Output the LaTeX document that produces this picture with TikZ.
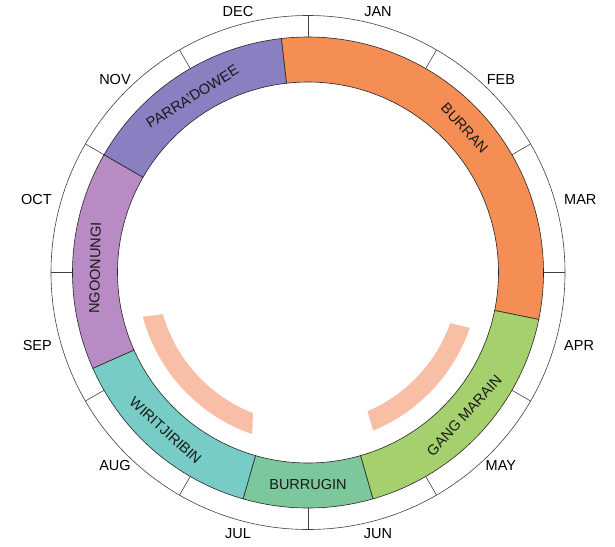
\documentclass[tikz,border=0pt]{standalone}
\usepackage{fontspec}
\setmainfont{Liberation Sans}
\usepackage{xcolor}
\usepackage{tikz}

\definecolor{burrancol}{HTML}{F58E54}
\definecolor{gangcol}{HTML}{A6D06E}
\definecolor{burrugincol}{HTML}{7CC89C}
\definecolor{wiritcol}{HTML}{78CCC6}
\definecolor{ngooncol}{HTML}{B98BC5}
\definecolor{parracol}{HTML}{8A7FC0}
\definecolor{salmoncol}{HTML}{F8BEA6}

\tikzset{
  season/.style={draw=black!85, line width=0.6pt},
  rim/.style={draw=black!75, line width=0.6pt},
  monthlbl/.style={font=\fontsize{14.5}{17}\selectfont, inner sep=1pt},
  seasonlbl/.style={font=\fontsize{14.5}{17}\selectfont, text=black!90, inner sep=0pt}
}

\begin{document}
\begin{tikzpicture}[x=1pt, y=1pt]
            \useasboundingbox (-308, -273.5) rectangle (307, 272.5);

            % month ring
            \draw[rim] (0, 0) circle (257pt);

            % seasons
            \draw[season, fill=burrancol] (96.5:235.5pt) arc[start angle=96.5, end angle=-11.5, radius=235.5pt] -- (-11.5:190.5pt) arc[start angle=-11.5, end angle=96.5, radius=190.5pt] -- cycle; % burran
            \draw[season, fill=gangcol] (-11.5:235.5pt) arc[start angle=-11.5, end angle=-74, radius=235.5pt] -- (-74:190.5pt) arc[start angle=-74, end angle=-11.5, radius=190.5pt] -- cycle; % gang marain
            \draw[season, fill=burrugincol] (-74:235.5pt) arc[start angle=-74, end angle=-106, radius=235.5pt] -- (-106:190.5pt) arc[start angle=-106, end angle=-74, radius=190.5pt] -- cycle; % burrugin
            \draw[season, fill=wiritcol] (-106:235.5pt) arc[start angle=-106, end angle=-156, radius=235.5pt] -- (-156:190.5pt) arc[start angle=-156, end angle=-106, radius=190.5pt] -- cycle; % wiritjiribin
            \draw[season, fill=ngooncol] (204:235.5pt) arc[start angle=204, end angle=150, radius=235.5pt] -- (150:190.5pt) arc[start angle=150, end angle=204, radius=190.5pt] -- cycle; % ngoonungi
            \draw[season, fill=parracol] (150:235.5pt) arc[start angle=150, end angle=96.5, radius=235.5pt] -- (96.5:190.5pt) arc[start angle=96.5, end angle=150, radius=190.5pt] -- cycle; % parra'dowee

            % month dividers
            \draw[rim] (90:235.5pt) -- (90:257pt);   % dec-jan
            \draw[rim] (60:235.5pt) -- (60:257pt);   % jan-feb
            \draw[rim] (30:235.5pt) -- (30:257pt);   % feb-mar
            \draw[rim] (0:235.5pt) -- (0:257pt);     % mar-apr
            \draw[rim] (-30:235.5pt) -- (-30:257pt); % apr-may
            \draw[rim] (-60:235.5pt) -- (-60:257pt); % may-jun
            \draw[rim] (-90:235.5pt) -- (-90:257pt); % jun-jul
            \draw[rim] (-120:235.5pt) -- (-120:257pt); % jul-aug
            \draw[rim] (-150:235.5pt) -- (-150:257pt); % aug-sep
            \draw[rim] (180:235.5pt) -- (180:257pt); % sep-oct
            \draw[rim] (150:235.5pt) -- (150:257pt); % oct-nov
            \draw[rim] (120:235.5pt) -- (120:257pt); % nov-dec

            % month labels
            \node[monthlbl, anchor=255] (jan) at (75:264pt) {JAN};
            \node[monthlbl, anchor=225] (feb) at (45:264pt) {FEB};
            \node[monthlbl, anchor=195] (mar) at (15:264pt) {MAR};
            \node[monthlbl, anchor=165] (apr) at (-15:264pt) {APR};
            \node[monthlbl, anchor=135] (may) at (-45:264pt) {MAY};
            \node[monthlbl, anchor=105] (jun) at (-75:264pt) {JUN};
            \node[monthlbl, anchor=75] (jul) at (-105:264pt) {JUL};
            \node[monthlbl, anchor=45] (aug) at (-135:264pt) {AUG};
            \node[monthlbl, anchor=15] (sep) at (-165:264pt) {SEP};
            \node[monthlbl, anchor=-15] (oct) at (165:264pt) {OCT};
            \node[monthlbl, anchor=-45] (nov) at (135:264pt) {NOV};
            \node[monthlbl, anchor=-75] (dec) at (105:264pt) {DEC};

            % season labels
            \node[seasonlbl, rotate=-47.3] (burran) at (42.7:213pt) {BURRAN};
            \node[seasonlbl, rotate=47.5] (gangmarain) at (-42.5:212pt) {GANG MARAIN};
            \node[seasonlbl] (burrugin) at (-90:212.5pt) {BURRUGIN};
            \node[seasonlbl, rotate=-42] (wiritjiribin) at (-132:213pt) {WIRITJIRIBIN};
            \node[seasonlbl, rotate=89] (ngoonungi) at (178.8:213pt) {NGOONUNGI};
            \node[seasonlbl, rotate=32] (parradowee) at (123.3:210.5pt) {PARRA'DOWEE};

            % inner arcs
            \fill[salmoncol] (196:151pt) arc[start angle=196, end angle=248.6, radius=151pt] -- (251:171pt) arc[start angle=251, end angle=195, radius=171pt] -- cycle; % left
            \fill[salmoncol] (-19.6:151pt) arc[start angle=-19.6, end angle=-66.8, radius=151pt] -- (-67.6:171pt) arc[start angle=-67.6, end angle=-18.9, radius=171pt] -- cycle; % right
        \end{tikzpicture}
\end{document}
